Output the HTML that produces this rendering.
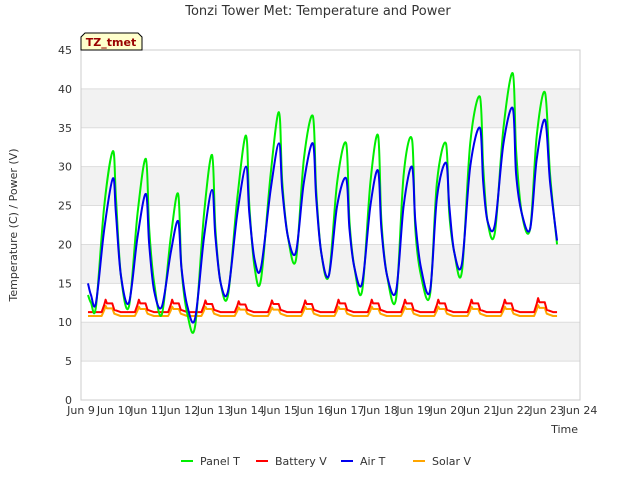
<!DOCTYPE html>
<html><head><meta charset="utf-8"><style>
body{margin:0;background:#fff;font-family:"Liberation Sans","DejaVu Sans",sans-serif}
svg text{font-family:"DejaVu Sans","Liberation Sans",sans-serif}
</style></head><body>
<svg id="chart" width="640" height="480">
<g id="bands"></g>
<g id="axes"></g>
<g id="series"></g>
<text x="318" y="15" text-anchor="middle" font-size="13" fill="#333">Tonzi Tower Met: Temperature and Power</text>
<text x="17" y="225" text-anchor="middle" font-size="11" fill="#333" transform="rotate(-90 17 225)">Temperature (C) / Power (V)</text>
<text x="578" y="433" text-anchor="end" font-size="11" fill="#333">Time</text>
<g>
<path d="M81,50 L81,37 L85,33 L138,33 L142,37 L142,50 Z" fill="#ffffcc" stroke="#000"/>
<text x="111" y="46" text-anchor="middle" font-size="11" font-weight="bold" fill="#990000">TZ_tmet</text>
</g>
<g id="legend"></g>
</svg>
<script>
const yTicks=[0,5,10,15,20,25,30,35,40,45];
const xDays=[9,10,11,12,13,14,15,16,17,18,19,20,21,22,23,24];
const panelT_t=[9.21,9.3,9.45,9.7,9.96,10.05,10.2,10.44,10.7,10.95,11.05,11.2,11.43,11.7,11.92,12.02,12.2,12.43,12.7,12.94,13.04,13.2,13.42,13.7,13.96,14.06,14.22,14.41,14.7,14.95,15.05,15.22,15.46,15.7,15.97,16.07,16.22,16.45,16.7,16.97,17.07,17.22,17.45,17.7,17.93,18.03,18.2,18.47,18.7,18.95,19.05,19.22,19.49,19.7,19.97,20.07,20.22,20.45,20.7,20.99,21.09,21.22,21.44,21.7,21.98,22.08,22.25,22.5,22.7,22.95,23.1,23.31];
const panelT_v=[13.5,12.5,12,25,32,26,16,12,24,31,22,15,11,21,26.5,17,11,9.5,24,31.5,22,15,13.5,26,34,25,17,15.5,29,37,28,21,18,31,36.5,27,19,16,28,33,23,17,14,28,34,23,16,13,29,33.5,22,16,13.5,28,33,24,19,16.5,33,39,30,23,21.5,35,42,32,24,22,34,39.5,29,20];
const airT_t=panelT_t;
const airT_v=[15,13.5,12.5,22,28.5,24,16,12.5,21,26.5,20,14,12,19,23,17,12,10.5,21,27,21,15,14,24,30,24,18,17,27,33,27,21,19,28,33,26,19,16,25,28.5,22,17,15,25,29.5,22,16,14,25,30,23,17,14,26,30.5,25,19,17.5,30,35,28,23,22.5,33,37.5,29,24,22,31,36,28,20.5];
const batPeaks=[9.74,10.74,11.74,12.74,13.74,14.74,15.74,16.74,17.74,18.74,19.74,20.74,21.74,22.74];
const batPeakV=[12.9,12.9,12.9,12.8,12.7,12.8,12.8,12.9,12.9,12.9,12.9,12.9,12.9,13.1];
const batBase=11.3;
const solPeakV=[12.1,12,12,12,11.9,11.9,12,12,12,12,12,12,12,12.2];
const solBase=10.8;
const X=d=>81+(d-9)*(499/15), Y=v=>400-v*(350/45);
const NS="http://www.w3.org/2000/svg";
function mk(tag,attrs,parent){const e=document.createElementNS(NS,tag);for(const k in attrs)e.setAttribute(k,attrs[k]);parent.appendChild(e);return e;}
const bands=document.getElementById('bands'),axes=document.getElementById('axes'),ser=document.getElementById('series'),leg=document.getElementById('legend');
for(let i=0;i<yTicks.length-1;i++){
  if(i%2===1){const b=mk('rect',{x:81,y:Y(yTicks[i+1]),width:499,height:Y(yTicks[i])-Y(yTicks[i+1]),fill:'#f2f2f2'},bands);
  
  }
}
yTicks.forEach(v=>{
  const l=mk('line',{x1:81,x2:580,y1:Y(v),y2:Y(v),stroke:'#ddd'},axes);
  
  
  const t=mk('text',{x:72,y:Y(v)+4,'text-anchor':'end','font-size':11,fill:'#333'},axes);t.textContent=v;
  
  
});
mk('rect',{x:81,y:50,width:499,height:350,fill:'none',stroke:'#ccc'},axes);
xDays.forEach(d=>{
  const t=mk('text',{x:X(d),y:414,'text-anchor':'middle','font-size':11,fill:'#333'},axes);t.textContent='Jun '+d;
  
  
});
function smoothPath(pts){
  let d='M'+pts[0][0]+','+pts[0][1];
  for(let i=0;i<pts.length-1;i++){
    const p0=pts[Math.max(0,i-1)],p1=pts[i],p2=pts[i+1],p3=pts[Math.min(pts.length-1,i+2)];
    const c1x=p1[0]+(p2[0]-p0[0])/6,c1y=p1[1]+(p2[1]-p0[1])/6,c2x=p2[0]-(p3[0]-p1[0])/6,c2y=p2[1]-(p3[1]-p1[1])/6;
    d+=' C'+c1x+','+c1y+' '+c2x+','+c2y+' '+p2[0]+','+p2[1];
  }
  return d;
}
function line(ts,vs,color,name,smooth){
  const pts=ts.map((t,i)=>[X(t),Y(vs[i])]);
  const p=mk('path',{d:smooth?smoothPath(pts):'M'+pts.map(q=>q.join(',')).join(' L'),fill:'none',stroke:color,'stroke-width':2,'stroke-linejoin':'round'},ser);
  
  
}
function spikes(peaks,vals,base,plat){
  const ts=[9.21],vs=[base];
  peaks.forEach((p,i)=>{ts.push(p-0.12,p-0.04,p,p+0.04,p+0.2,p+0.26,p+0.45);vs.push(base,base+(vals[i]-base)*0.6,vals[i],base+(vals[i]-base)*plat,base+(vals[i]-base)*plat,base+0.3,base);});
  ts.push(23.31);vs.push(base);return [ts,vs];
}
const sb=spikes(batPeaks,solPeakV,solBase,0.75);
line(sb[0],sb[1],'#ffa500','solar-v-line',false);
const bb=spikes(batPeaks,batPeakV,batBase,0.7);
line(bb[0],bb[1],'#ff0000','battery-v-line',false);
line(panelT_t,panelT_v,'#00ee00','panel-t-line',true);
line(airT_t,airT_v,'#0000ee','air-t-line',true);
[['Panel T','#00ee00',181],['Battery V','#ff0000',256],['Air T','#0000ee',341],['Solar V','#ffa500',413]].forEach(([n,c,x])=>{
  const g=mk('g',{},leg);
  
  
  mk('line',{x1:x,x2:x+12,y1:461,y2:461,stroke:c,'stroke-width':2},g);
  const t=mk('text',{x:x+19,y:465,'font-size':11,fill:'#333'},g);t.textContent=n;
});
</script>
</body></html>
